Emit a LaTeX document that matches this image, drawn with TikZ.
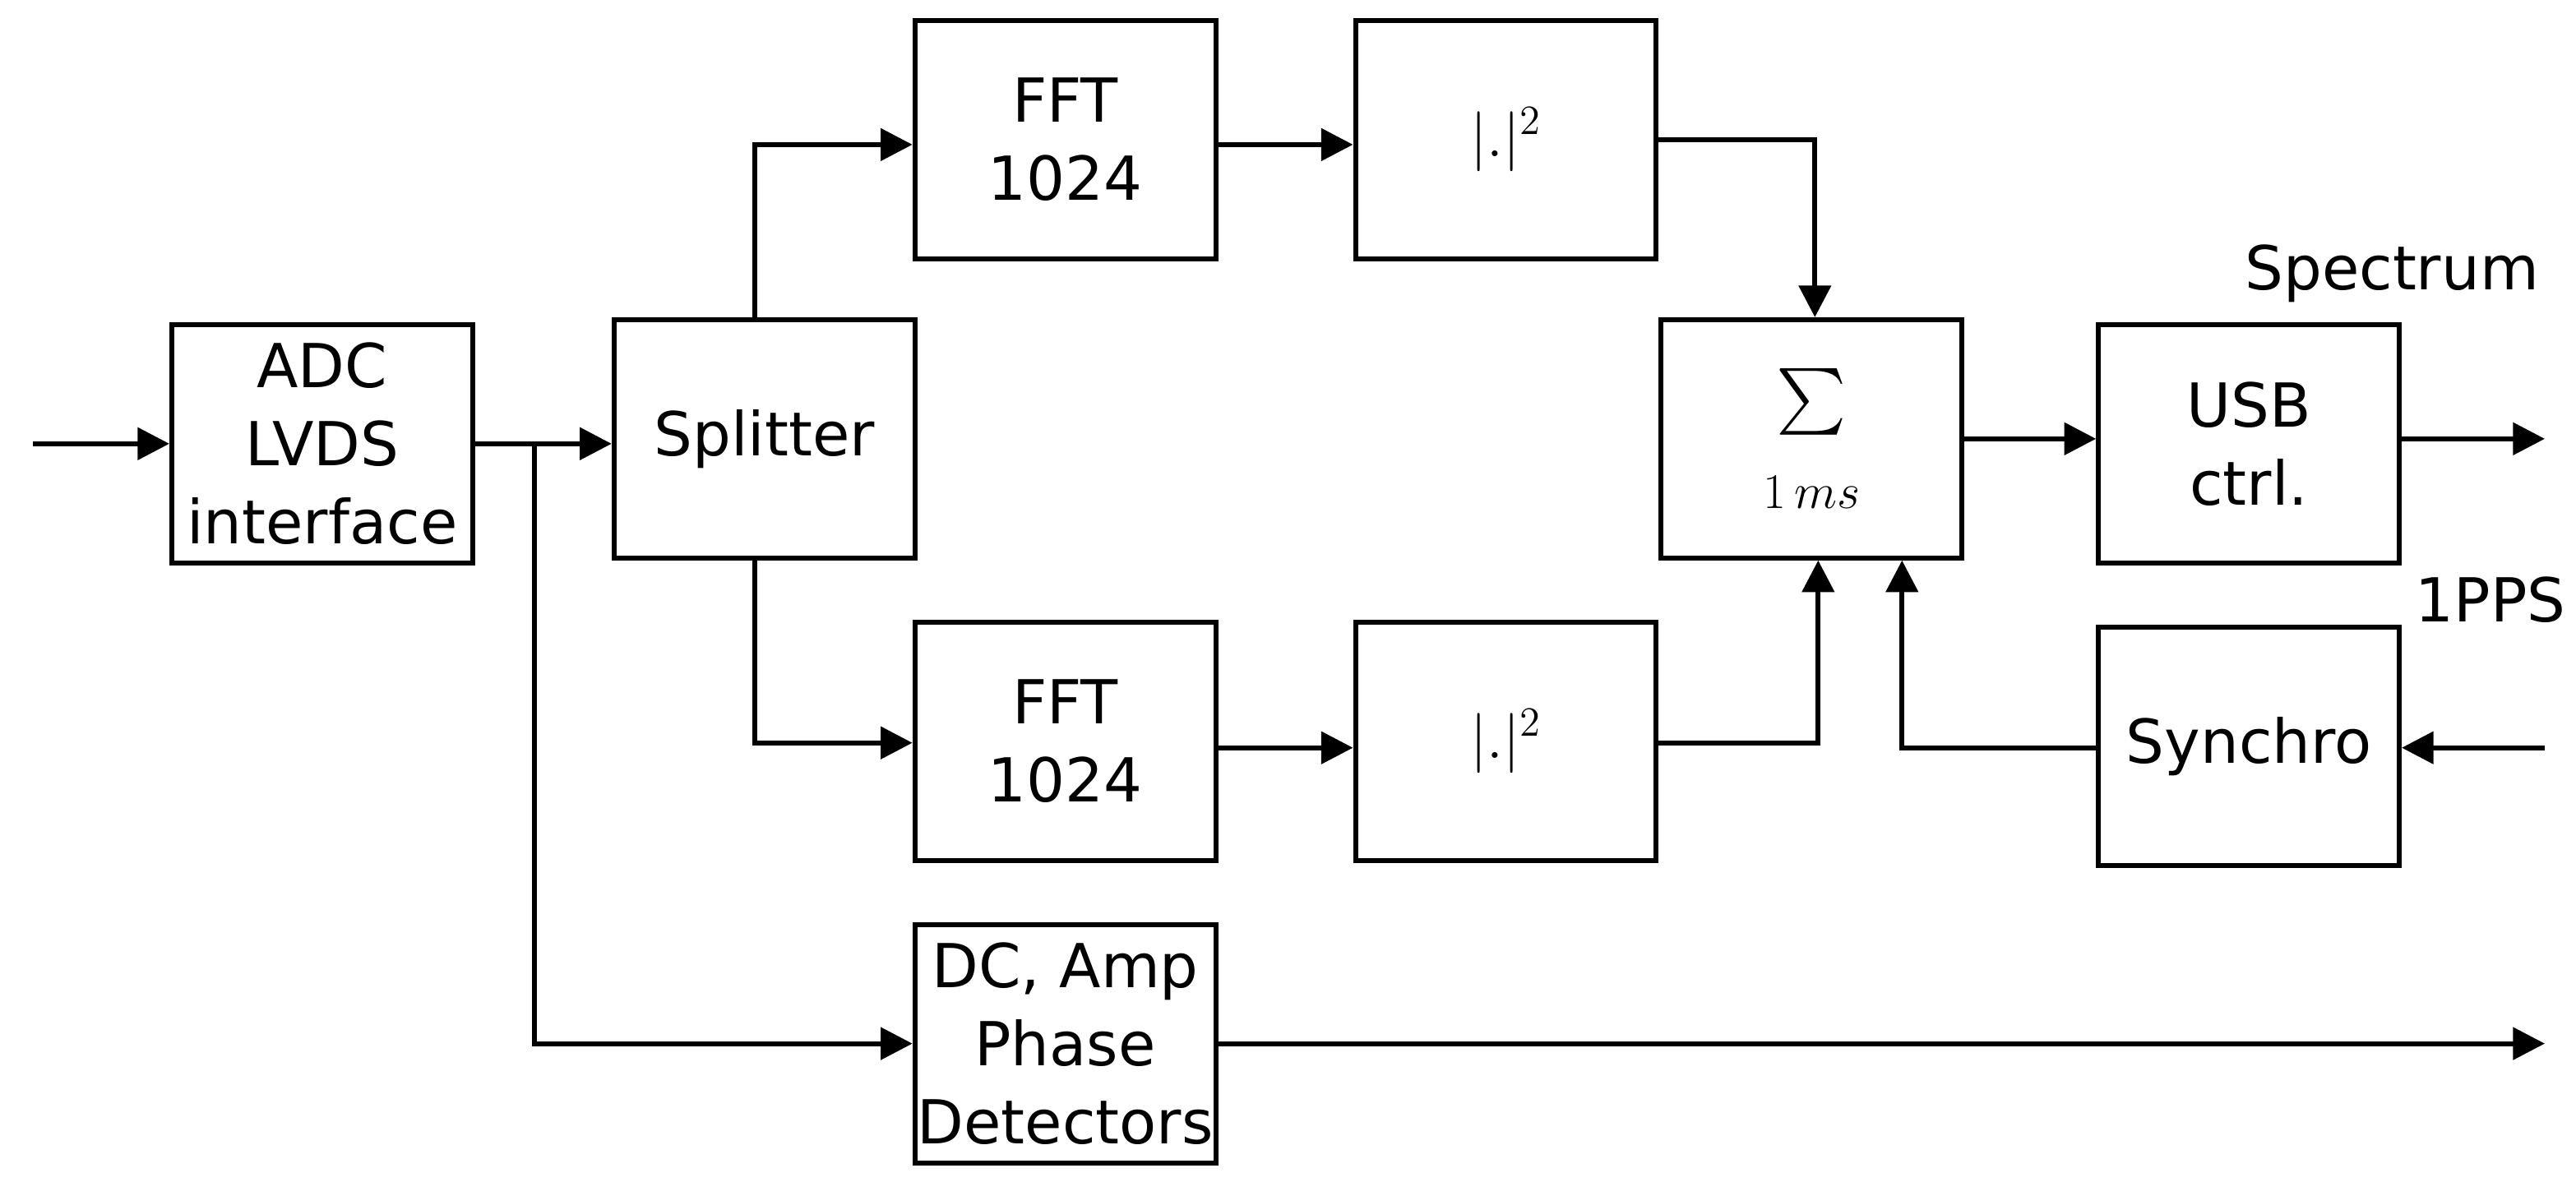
\documentclass[tikz,border=0pt]{standalone}
\usepackage{fontspec}
\setmainfont{DejaVu Sans}
\usetikzlibrary{arrows.meta,calc}
\begin{document}
\begin{tikzpicture}[x=0.02cm,y=-0.02cm,
  blk/.style={draw,line width=1.7pt,minimum width=3.66cm,minimum height=2.9cm,align=center,inner sep=0pt,font=\fontsize{21}{27}\selectfont},
  arr/.style={line width=1.7pt,-{Triangle[length=11pt,width=11pt]}},
  ln/.style={line width=1.7pt},
  lbl/.style={font=\fontsize{21}{27}\selectfont}]
\useasboundingbox (0,0) rectangle (1567,719);
\node[blk] (adc) at (196,270) {ADC\\LVDS\\interface};
\node[blk] (spl) at (465,267) {Splitter};
\node[blk] (fft1) at (648,85) {FFT\\1024};
\node[blk] (sq1) at (916,85) {$|.|^2$};
\node[blk] (sum) at (1102,267) {\scalebox{2.3}{$\sum$}\\[-2pt]{\fontsize{16}{18}\selectfont$1\,ms$}};
\node[blk] (usb) at (1368,270) {USB\\ctrl.};
\node[blk] (fft2) at (648,451) {FFT\\1024};
\node[blk] (sq2) at (916,451) {$|.|^2$};
\node[blk] (syn) at (1368,454) {Synchro};
\node[blk] (dc) at (648,635) {DC, Amp\\Phase\\Detectors};
\node[lbl,anchor=south] (spec) at (1455,190) {Spectrum};
\node[lbl,anchor=south east] (pps) at (1567,385) {1PPS};
\coordinate (in) at (20,270);
\coordinate (br) at (325,270);
\coordinate (out1) at (1548,270);
\coordinate (out2) at (1548,635);
\coordinate (ppsin) at (1548,455);
\draw[arr] (in) -- (in -| adc.west);
\draw[arr] (adc.east |- br) -- (spl.west |- br);
\draw[ln] (br) |- ($(br)!0!(br)+(0,0)$);
\draw[arr] (br) |- (dc.west);
\draw[arr] (spl.north -| 459,0) |- (fft1.west |- 0,88);
\draw[arr] (spl.south -| 459,0) |- (fft2.west |- 0,452);
\draw[arr] (fft1.east |- 0,88) -- (sq1.west |- 0,88);
\draw[arr] (fft2.east |- 0,455) -- (sq2.west |- 0,455);
\draw[arr] (sq1.east |- 0,85) -| (sum.north -| 1104,0);
\draw[arr] (sq2.east |- 0,452) -| (sum.south -| 1106,0);
\draw[arr] (syn.west |- 0,455) -| (sum.south -| 1157,0);
\draw[arr] (sum.east |- 0,267) -- (usb.west |- 0,267);
\draw[arr] (usb.east |- 0,267) -- (out1 |- 0,267);
\draw[arr] (ppsin) -- (syn.east |- ppsin);
\draw[arr] (dc.east) -- (out2);
\end{tikzpicture}
\end{document}
